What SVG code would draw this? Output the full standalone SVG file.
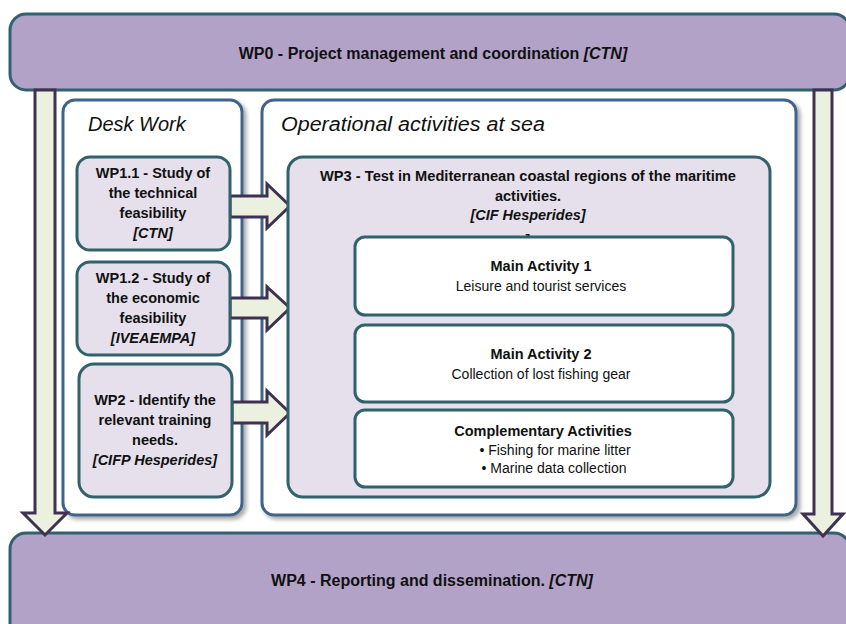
<svg xmlns="http://www.w3.org/2000/svg" width="846" height="624" viewBox="0 0 846 624">
<defs>
<filter id="sh" x="-5%" y="-5%" width="115%" height="115%">
<feGaussianBlur in="SourceAlpha" stdDeviation="2"/>
<feOffset dx="3" dy="3" result="b"/>
<feComponentTransfer><feFuncA type="linear" slope="0.35"/></feComponentTransfer>
<feMerge><feMergeNode/><feMergeNode in="SourceGraphic"/></feMerge>
</filter>
</defs>
<style>
.wp{fill:#b2a2c7;stroke:#31606e;stroke-width:3}
.grp{fill:#ffffff;stroke:#41648a;stroke-width:3}
.inner{fill:#e5e0ec;stroke:#31626c;stroke-width:3}
.act{fill:#ffffff;stroke:#31626c;stroke-width:3}
.arr{fill:#ebf1de;stroke:#3f3151;stroke-width:3;stroke-linejoin:miter}
text{font-family:"Liberation Sans",Arial,sans-serif;fill:#111;}
.b{font-weight:bold;font-size:14.5px;text-anchor:middle}
.n{font-size:14px;text-anchor:middle}
.t{font-style:italic;font-size:20px}
.i{font-style:italic}
.h{font-weight:bold;font-size:16px;text-anchor:middle}
</style>
<rect width="846" height="624" fill="#ffffff"/>

<g id="wp0">
<rect class="wp" x="10" y="14" width="840" height="76" rx="16"/>
<text class="h" x="433" y="59">WP0 - Project management and coordination <tspan class="i">[CTN]</tspan></text>
</g>

<g id="wp4">
<rect class="wp" x="10" y="533" width="840" height="110" rx="16"/>
<text class="h" x="432" y="586">WP4 - Reporting and dissemination. <tspan class="i">[CTN]</tspan></text>
</g>

<g id="desk-work" filter="url(#sh)">
<rect class="grp" x="63" y="100" width="179" height="415" rx="12"/>
</g>
<text class="t" x="88" y="131">Desk Work</text>

<g id="operational" filter="url(#sh)">
<rect class="grp" x="262" y="100" width="534" height="415" rx="12"/>
</g>
<text class="t" x="281" y="131" textLength="264" lengthAdjust="spacingAndGlyphs">Operational activities at sea</text>

<g id="connectors">
<path class="arr" d="M35,90 L55,90 L55,513 L67,513 L45,535 L23,513 L35,513 Z"/>
<path class="arr" d="M814,90 L832,90 L832,514 L843,514 L823,536 L803,514 L814,514 Z"/>
<path class="arr" d="M230,196 L267,196 L267,184 L290,206 L267,228 L267,217 L230,217 Z"/>
<path class="arr" d="M230,298 L267,298 L267,287 L290,308 L267,330 L267,318 L230,318 Z"/>
<path class="arr" d="M232,402 L267,402 L267,391 L290,413 L267,435 L267,423 L232,423 Z"/>
</g>

<g id="wp1-1">
<rect class="inner" x="77" y="157" width="153" height="93" rx="13"/>
<text class="b" x="153" y="178">WP1.1 - Study of</text>
<text class="b" x="153" y="198">the technical</text>
<text class="b" x="153" y="218">feasibility</text>
<text class="b i" x="153" y="238">[CTN]</text>
</g>

<g id="wp1-2">
<rect class="inner" x="77" y="262" width="153" height="93" rx="13"/>
<text class="b" x="153" y="283">WP1.2 - Study of</text>
<text class="b" x="153" y="303">the economic</text>
<text class="b" x="153" y="323">feasibility</text>
<text class="b i" x="153" y="343">[IVEAEMPA]</text>
</g>

<g id="wp2">
<rect class="inner" x="79" y="364" width="153" height="133" rx="15"/>
<text class="b" x="155" y="405">WP2 - Identify the</text>
<text class="b" x="155" y="425">relevant training</text>
<text class="b" x="155" y="445">needs.</text>
<text class="b i" x="155" y="465">[CIFP Hesperides]</text>
</g>

<g id="wp3">
<rect class="inner" x="288" y="157" width="482" height="340" rx="15"/>
<text class="b" x="528" y="181" textLength="416" lengthAdjust="spacingAndGlyphs">WP3 - Test in Mediterranean coastal regions of the maritime</text>
<text class="b" x="528" y="201">activities.</text>
<text class="b i" x="528" y="220">[CIF Hesperides]</text>
<text class="b" x="528" y="245">]</text>
</g>

<g id="main-activity-1">
<rect class="act" x="355" y="237" width="378" height="78" rx="10"/>
<text class="b" x="541" y="271">Main Activity 1</text>
<text class="n" x="541" y="291">Leisure and tourist services</text>
</g>

<g id="main-activity-2">
<rect class="act" x="355" y="325" width="378" height="77" rx="10"/>
<text class="b" x="541" y="359">Main Activity 2</text>
<text class="n" x="541" y="379">Collection of lost fishing gear</text>
</g>

<g id="complementary">
<rect class="act" x="355" y="410" width="378" height="77" rx="10"/>
<text class="b" x="543" y="436">Complementary Activities</text>
<text class="n" x="555" y="455">• Fishing for marine litter</text>
<text class="n" x="554" y="473">• Marine data collection</text>
</g>
</svg>
